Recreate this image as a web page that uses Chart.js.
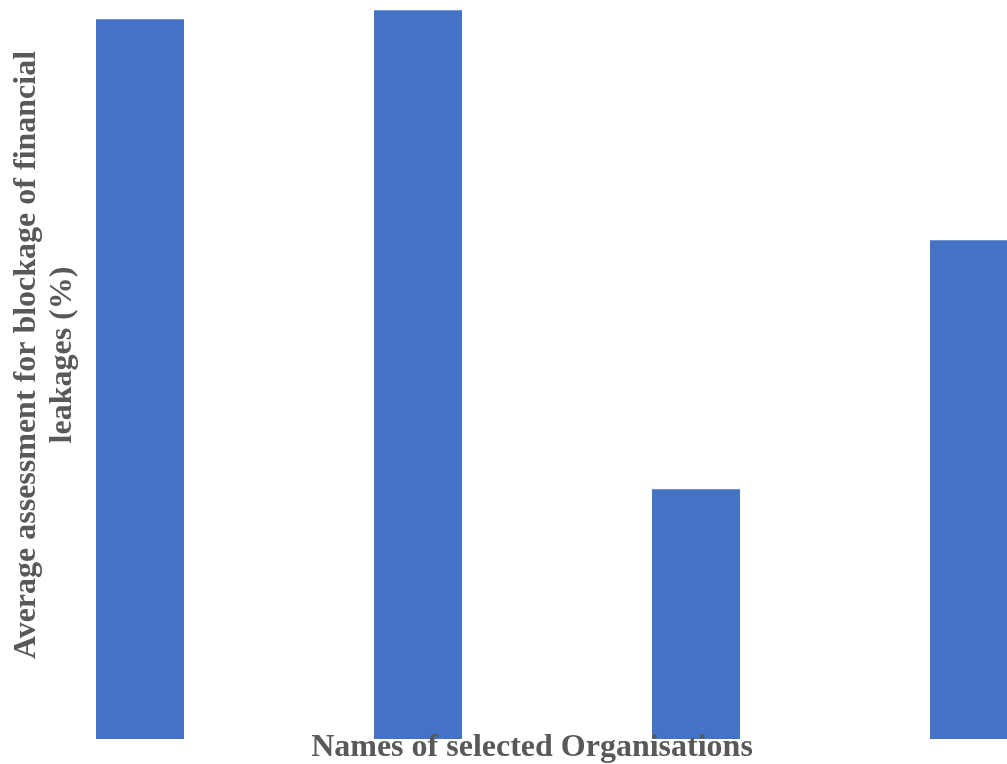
<!DOCTYPE html>
<html>
<head>
<meta charset="utf-8">
<script src="https://cdn.jsdelivr.net/npm/chart.js@4"></script>
<style>
  html, body { margin: 0; padding: 0; overflow: hidden; background: #ffffff; width: 1007px; height: 764px; }
  #wrap { position: absolute; left: 0; top: 0; width: 1113px; height: 764px; }
</style>
</head>
<body>
<div id="wrap"><canvas id="c" width="1113" height="764"></canvas></div>
<script>
// Data (% of y-axis maximum)
const categories = ["Organisation 1", "Organisation 2", "Organisation 3", "Organisation 4"];
const assessmentValues = [97.4, 98.6, 33.8, 67.5];
const yTitleLines = ["Average assessment for blockage of financial", "leakages (%)"];
const xTitle = "Names of selected Organisations";

const titlePlugin = {
  id: 'manualTitles',
  afterDraw(chart) {
    const ctx = chart.ctx;
    const area = chart.chartArea;
    ctx.save();
    ctx.fillStyle = '#595959';
    ctx.font = 'bold 32px "Liberation Serif", "Times New Roman", serif';
    ctx.textAlign = 'center';
    ctx.textBaseline = 'alphabetic';
    ctx.fillText(xTitle, 532, area.bottom + 17);
    const baselines = [35, 71];
    yTitleLines.forEach((line, i) => {
      ctx.save();
      ctx.translate(baselines[i], 355);
      ctx.rotate(-Math.PI / 2);
      ctx.fillText(line, 0, 0);
      ctx.restore();
    });
    ctx.restore();
  }
};

new Chart(document.getElementById('c'), {
  type: 'bar',
  data: {
    labels: categories,
    datasets: [{
      data: assessmentValues,
      backgroundColor: '#4472C4',
      borderWidth: 0,
      categoryPercentage: 1.0,
      barPercentage: 0.3165
    }]
  },
  options: {
    responsive: false,
    animation: false,
    layout: { padding: { left: 1, right: 0, top: 0, bottom: 25 } },
    plugins: { legend: { display: false }, tooltip: { enabled: false } },
    scales: {
      x: { display: false },
      y: { display: false, min: 0, max: 100 }
    }
  },
  plugins: [titlePlugin]
});
</script>
</body>
</html>
